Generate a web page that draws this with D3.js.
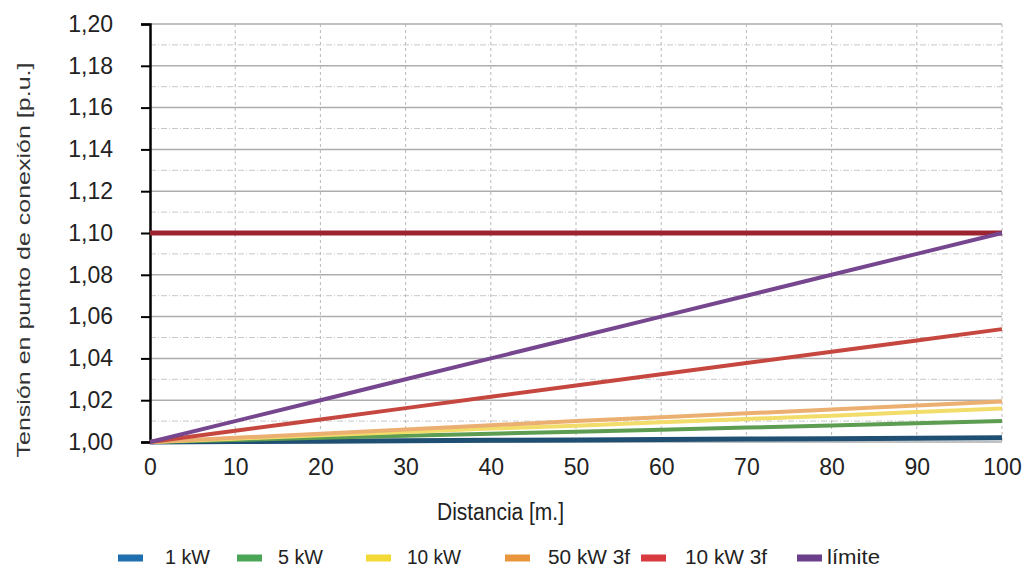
<!DOCTYPE html>
<html>
<head>
<meta charset="utf-8">
<script src="https://cdn.jsdelivr.net/npm/d3@7"></script>
<style>
  body { margin: 0; background: #fff; }
  .tick text { font-family: "Liberation Sans", Arial, sans-serif; }
</style>
</head>
<body>
<div class="canvas"></div>
<script>
// distances along the line [m.]
const distances = [0, 10, 20, 30, 40, 50, 60, 70, 80, 90, 100]

// voltage at connection point [p.u.] for every series
const kw1 = [1.000, 1.0002, 1.0004, 1.0006, 1.0008, 1.0010, 1.0012, 1.0014, 1.0016, 1.0018, 1.0020]
const kw5 = [1.000, 1.0010, 1.0020, 1.0030, 1.0040, 1.0049, 1.0059, 1.0069, 1.0079, 1.0090, 1.0100]
const kw10 = [1.000, 1.0016, 1.0032, 1.0048, 1.0064, 1.0078, 1.0094, 1.0110, 1.0126, 1.0143, 1.0160]
const kw50tri = [1.000, 1.0020, 1.0040, 1.0060, 1.0080, 1.0100, 1.0118, 1.0137, 1.0156, 1.0175, 1.0194]
const kw10tri = [1.000, 1.0054, 1.0108, 1.0162, 1.0216, 1.0270, 1.0324, 1.0378, 1.0432, 1.0486, 1.0540]
const limite = [1.000, 1.0100, 1.0200, 1.0300, 1.0400, 1.0500, 1.0600, 1.0700, 1.0800, 1.0900, 1.1000]
const maxVoltage = 1.10

const seriesNames = ['1 kW', '5 kW', '10 kW', '50 kW 3f', '10 kW 3f', 'límite']
const seriesValues = [kw1, kw5, kw10, kw50tri, kw10tri, limite]

const xTicks = [0, 10, 20, 30, 40, 50, 60, 70, 80, 90, 100]
const yTicks = [1.00, 1.02, 1.04, 1.06, 1.08, 1.10, 1.12, 1.14, 1.16, 1.18, 1.20]
const yMinor = [1.01, 1.03, 1.05, 1.07, 1.09, 1.11, 1.13, 1.15, 1.17, 1.19]

// line colours (as drawn) and legend swatch colours
const lineColours = ['#1f4f72', '#5d9d52', '#f2dc6a', '#ebb071', '#c5473f', '#76468f']
const legendColours = ['#1f6fae', '#4ba556', '#f2d935', '#e8953c', '#d83a40', '#6c3f8c']
const limitColour = '#9b2430'

const width = 1026
const height = 569
const margin = { top: 24, left: 150, right: 24, bottom: 127 }

const svg = d3.select('.canvas')
  .append('svg')
  .attr('width', width)
  .attr('height', height)

const x = d3.scaleLinear()
  .domain([0, 100])
  .range([margin.left, width - margin.right])

const y = d3.scaleLinear()
  .domain([1.00, 1.20])
  .range([height - margin.bottom, margin.top])

const fmt = d => d3.format('.2f')(d).replace('.', ',')

// minor horizontal grid (dashed)
svg.append('g')
  .selectAll('line')
  .data(yMinor)
  .enter()
  .append('line')
  .attr('x1', x(0))
  .attr('x2', x(100))
  .attr('y1', d => y(d))
  .attr('y2', d => y(d))
  .attr('stroke', '#c8c8c8')
  .attr('stroke-width', 1)
  .attr('stroke-dasharray', '6,2,1,2')

// major horizontal grid
svg.append('g')
  .selectAll('line')
  .data(yTicks)
  .enter()
  .append('line')
  .attr('x1', x(0))
  .attr('x2', x(100))
  .attr('y1', d => y(d))
  .attr('y2', d => y(d))
  .attr('stroke', '#adadad')
  .attr('stroke-width', 1.5)

// vertical grid (dashed)
svg.append('g')
  .selectAll('line')
  .data(xTicks.slice(1))
  .enter()
  .append('line')
  .attr('x1', d => x(d))
  .attr('x2', d => x(d))
  .attr('y1', y(1.20))
  .attr('y2', y(1.00))
  .attr('stroke', '#b8b8b8')
  .attr('stroke-width', 1)
  .attr('stroke-dasharray', '3,3')

// y axis
const yAxis = svg.append('g')
  .attr('transform', `translate(${x(0)},0)`)
  .call(d3.axisLeft(y).tickValues(yTicks).tickFormat(fmt).tickSize(9).tickPadding(28))
yAxis.select('.domain').attr('stroke', '#000').attr('stroke-width', 2.5)
yAxis.selectAll('.tick line').attr('stroke', '#000').attr('stroke-width', 2)
yAxis.selectAll('.tick text')
  .attr('font-size', 23)
  .attr('fill', '#222')

// x axis labels only
const xAxis = svg.append('g')
  .attr('transform', `translate(0,${y(1.00)})`)
  .call(d3.axisBottom(x).tickValues(xTicks).tickFormat(d3.format('d')).tickSize(0).tickPadding(17))
xAxis.select('.domain').remove()
xAxis.selectAll('.tick text')
  .attr('font-size', 23)
  .attr('fill', '#222')

// series lines
const line = d3.line()
  .x((d, i) => x(distances[i]))
  .y(d => y(d))

// horizontal limit at 1.10
svg.append('line')
  .attr('x1', x(0))
  .attr('x2', x(100))
  .attr('y1', y(maxVoltage))
  .attr('y2', y(maxVoltage))
  .attr('stroke', limitColour)
  .attr('stroke-width', 5)

svg.append('g')
  .selectAll('path')
  .data(seriesValues)
  .enter()
  .append('path')
  .attr('d', line)
  .attr('fill', 'none')
  .attr('stroke', (d, i) => lineColours[i])
  .attr('stroke-width', (d, i) => i === 0 ? 5 : 4)

// axis titles
svg.append('text')
  .attr('transform', `translate(30,260) rotate(-90)`)
  .attr('text-anchor', 'middle')
  .attr('font-family', 'Liberation Sans, Arial, sans-serif')
  .attr('font-size', 19)
  .attr('fill', '#333')
  .attr('textLength', 395)
  .attr('lengthAdjust', 'spacingAndGlyphs')
  .text('Tensión en punto de conexión [p.u.]')

svg.append('text')
  .attr('x', 437)
  .attr('y', 520)
  .attr('font-family', 'Liberation Sans, Arial, sans-serif')
  .attr('font-size', 23)
  .attr('fill', '#222')
  .attr('textLength', 127)
  .attr('lengthAdjust', 'spacingAndGlyphs')
  .text('Distancia [m.]')

// legend
const legendX = [118, 237, 366, 505, 641, 797]
const legendGap = [47, 41, 41, 43, 44, 30]
const legendText = [45, 45, 54, 82, 82, 53]
const legend = svg.append('g')
  .selectAll('g')
  .data(seriesNames)
  .enter()
  .append('g')
  .attr('transform', (d, i) => `translate(${legendX[i]},558)`)

legend.append('rect')
  .attr('x', 0)
  .attr('y', -3.5)
  .attr('width', 25)
  .attr('height', 7)
  .attr('fill', (d, i) => legendColours[i])

legend.append('text')
  .attr('x', (d, i) => legendGap[i])
  .attr('y', 6)
  .attr('font-family', 'Liberation Sans, Arial, sans-serif')
  .attr('font-size', 20)
  .attr('fill', '#222')
  .attr('textLength', (d, i) => legendText[i])
  .attr('lengthAdjust', 'spacingAndGlyphs')
  .text(d => d)
</script>
</body>
</html>
